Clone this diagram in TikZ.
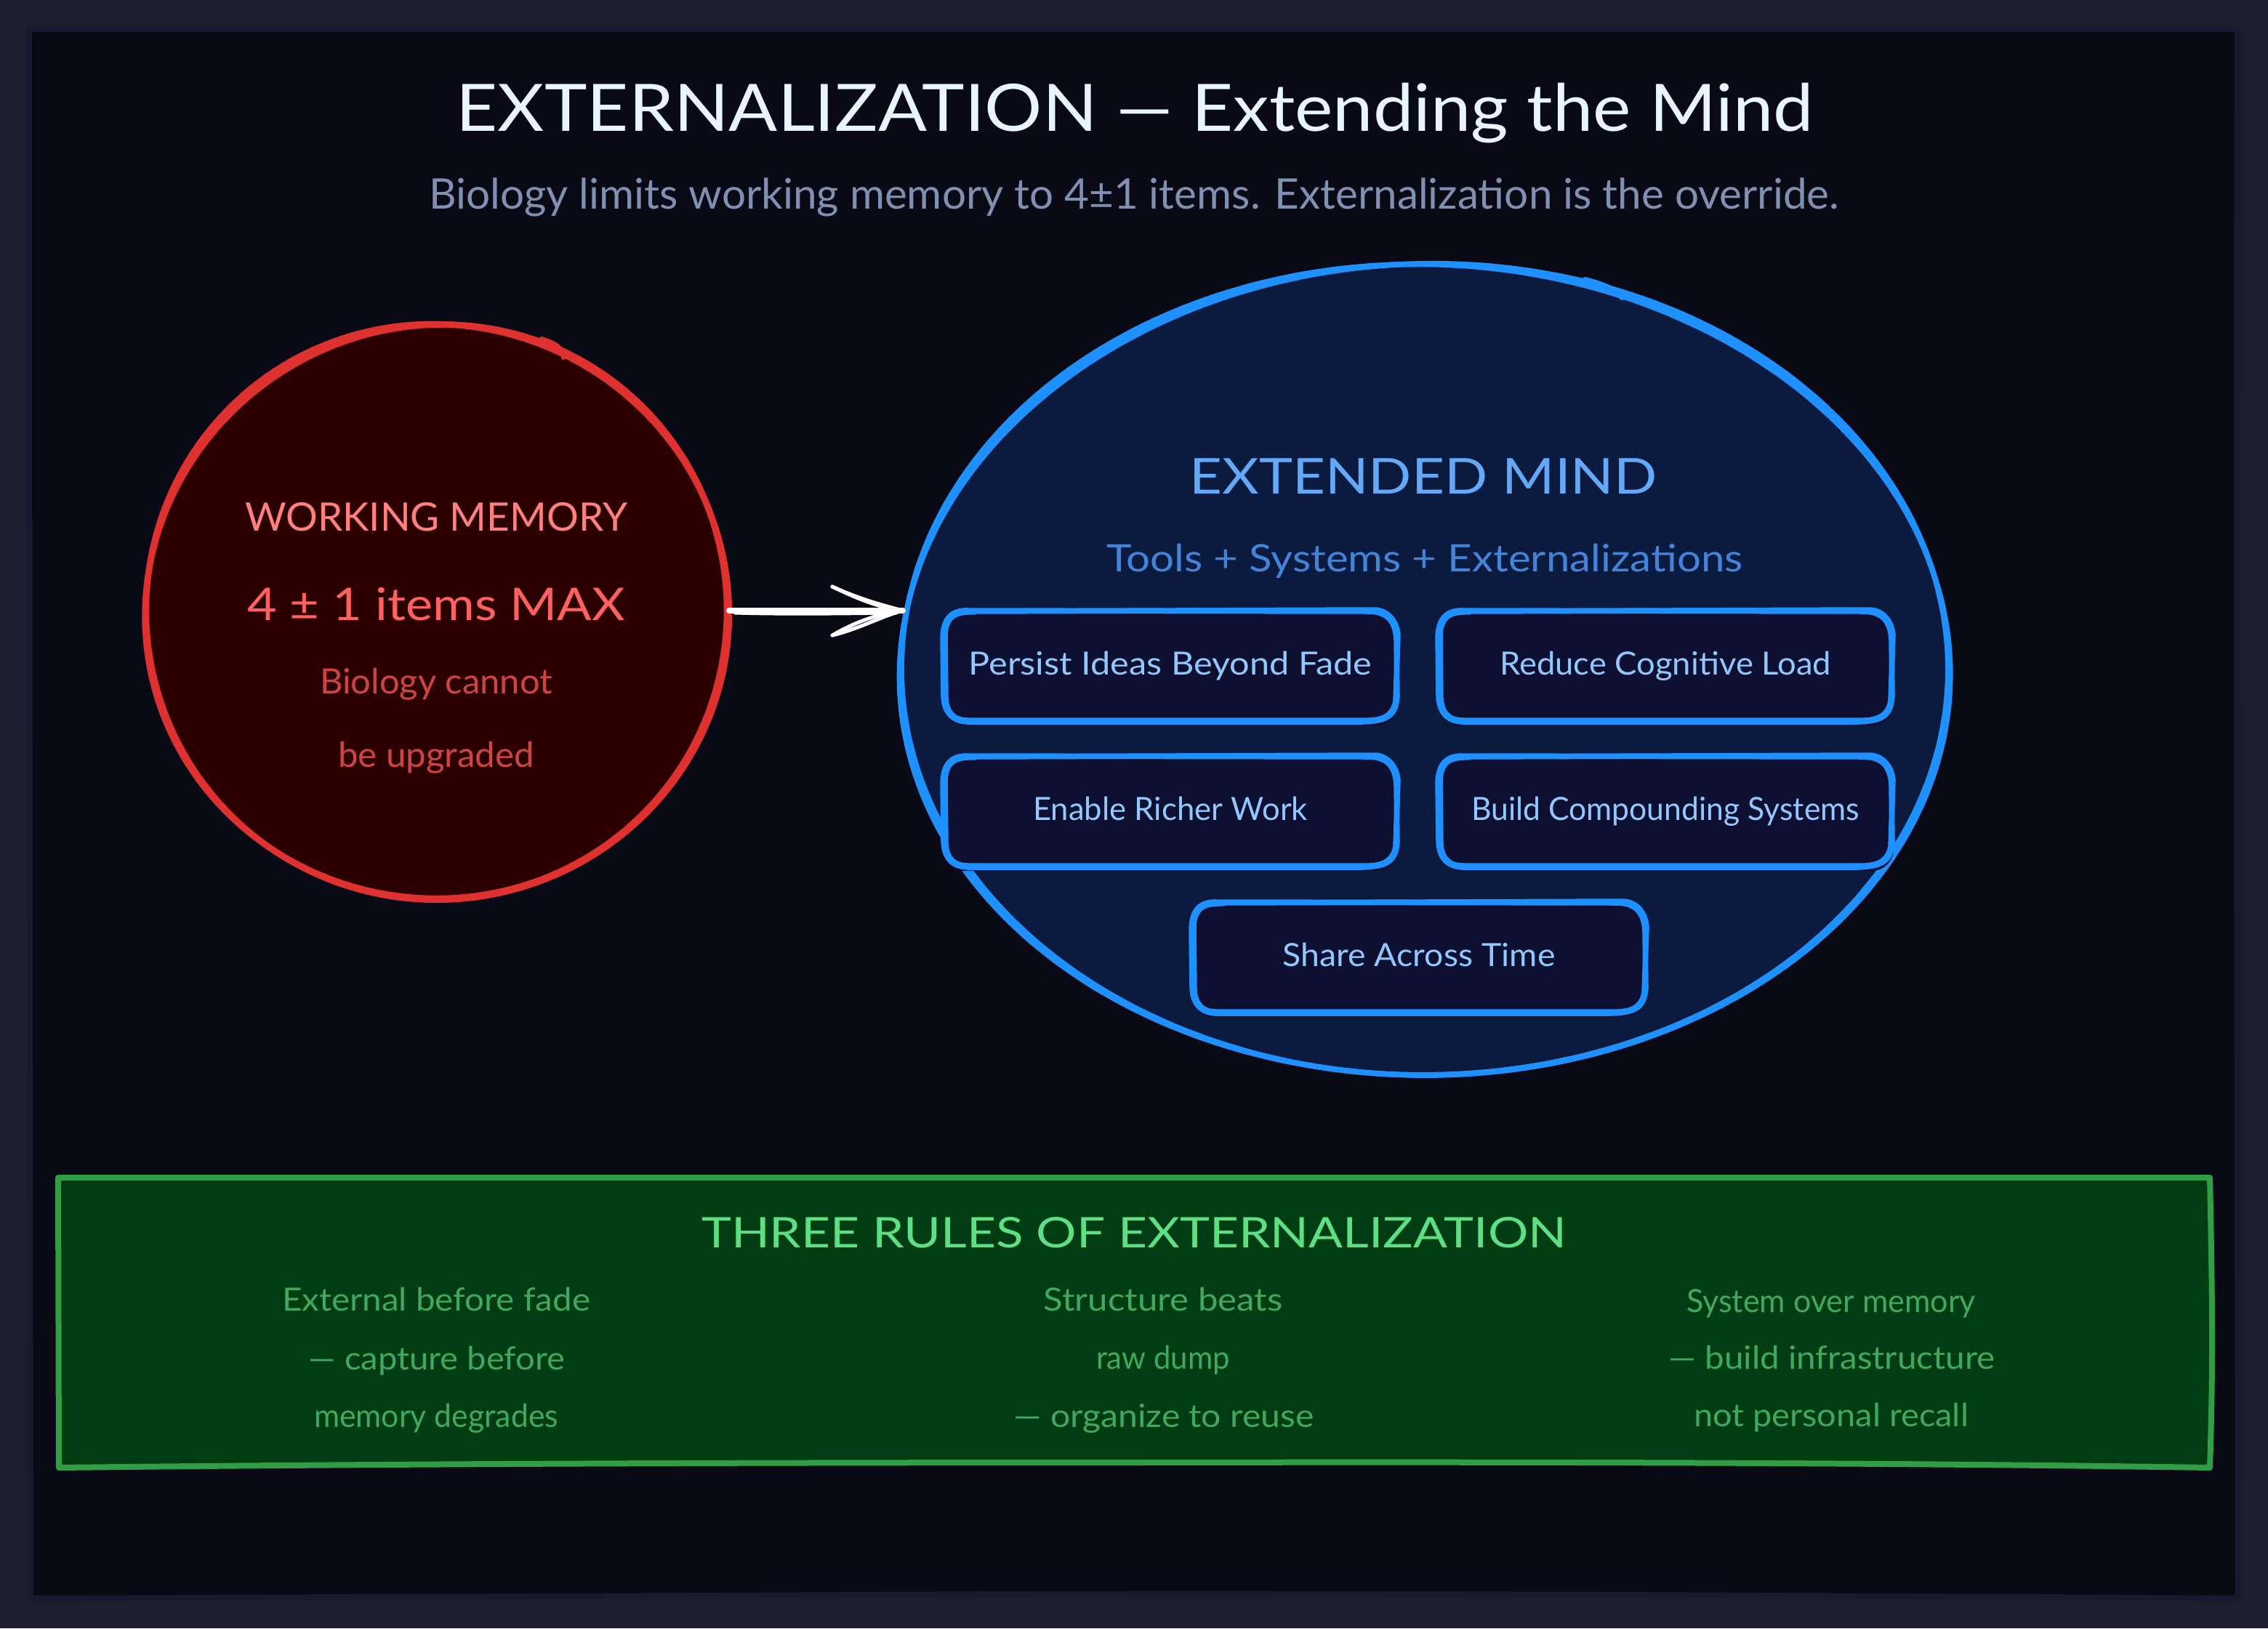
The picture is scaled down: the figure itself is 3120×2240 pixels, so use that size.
\documentclass[tikz,border=0pt]{standalone}
\usepackage{fontspec}
\usepackage{graphicx}
\setmainfont{Lato}
\usetikzlibrary{calc,shapes.geometric}
\definecolor{outerbg}{HTML}{1E1E2E}
\definecolor{band}{HTML}{1A1A2E}
\definecolor{innerbg}{HTML}{0A0A16}
\definecolor{titlec}{HTML}{E8F4FF}
\definecolor{subc}{HTML}{8090B0}
\definecolor{redline}{HTML}{E03131}
\definecolor{redfill}{HTML}{2D0000}
\definecolor{reda}{HTML}{FF8080}
\definecolor{redb}{HTML}{FF6060}
\definecolor{redc}{HTML}{CC4444}
\definecolor{blueline}{HTML}{1E90FF}
\definecolor{bluefill}{HTML}{0B1B40}
\definecolor{boxfill}{HTML}{0D1030}
\definecolor{bluea}{HTML}{64A8F8}
\definecolor{blueb}{HTML}{4484D8}
\definecolor{bluec}{HTML}{90C8FF}
\definecolor{greenline}{HTML}{2F9E44}
\definecolor{greenfill}{HTML}{013D12}
\definecolor{greena}{HTML}{5DE085}
\definecolor{greenb}{HTML}{40A860}
% fit{width}{font size}{text}: fixed size, horizontal scale to the measured width
\newcommand{\fit}[3]{\fontsize{#2}{#2}\selectfont\setbox0=\hbox{#3}%
  \pgfmathsetmacro{\fitscale}{#1/\the\wd0}\scalebox{\fitscale}[1]{\box0}}
\newcommand{\handring}[7]{% cx cy rx ry amp phase start
  plot[smooth,samples=80,domain=#7:#7+375,variable=\t]
  ({#1+#3*(1+#5*sin(2*\t+#6)+0.6*#5*sin(3*\t+2*#6))*cos(\t)},
   {#2+#4*(1+#5*sin(2*\t+#6)+0.6*#5*sin(3*\t+2*#6))*sin(\t)})}
\newcommand{\handbox}[6]{% name cx cy w h text
  \node[itembox,minimum width=#4pt,minimum height=#5pt] (#1) at (#2,#3) {#6};
  \draw[itemline]
    ($(#1.north west)+(36,4)$) .. controls ($(#1.north west)+(12,3)$) and ($(#1.north west)+(2,16)$) .. ($(#1.north west)+(1,40)$)
    -- ($(#1.south west)+(2,-40)$) .. controls ($(#1.south west)+(3,-16)$) and ($(#1.south west)+(16,-4)$) .. ($(#1.south west)+(40,-5)$)
    -- ($(#1.south east)+(-50,-5)$) .. controls ($(#1.south east)+(-14,-6)$) and ($(#1.south east)+(-4,-14)$) .. ($(#1.south east)+(-2,-40)$)
    -- ($(#1.north east)+(-3,45)$) .. controls ($(#1.north east)+(-4,16)$) and ($(#1.north east)+(-18,6)$) .. ($(#1.north east)+(-40,5)$)
    -- ($(#1.north west)+(36,4)$);
  \draw[itemline]
    ($(#1.north west)+(44,6)$) .. controls ($(#1.north west)+(18,5)$) and ($(#1.north west)+(6,12)$) .. ($(#1.north west)+(4,36)$)
    -- ($(#1.south west)+(5,-36)$) .. controls ($(#1.south west)+(7,-17)$) and ($(#1.south west)+(16,-7)$) .. ($(#1.south west)+(36,-7)$)
    -- ($(#1.south east)+(-40,-7)$) .. controls ($(#1.south east)+(-18,-8)$) and ($(#1.south east)+(-7,-16)$) .. ($(#1.south east)+(-4,-34)$)
    -- ($(#1.north east)+(-1,38)$) .. controls ($(#1.north east)+(-2,20)$) and ($(#1.north east)+(-14,3)$) .. ($(#1.north east)+(-34,3)$)
    -- ($(#1.north west)+(44,5)$);
}
\tikzset{
  x=1pt,y=-1pt,
  txt/.style={inner sep=0pt,outer sep=0pt,anchor=base},
  itembox/.style={fill=boxfill,rounded corners=30pt,inner sep=0pt,outer sep=0pt,text=bluec,
    text height=22pt,text depth=0pt,align=center},
  itemline/.style={draw=blueline,line width=7.5pt,line cap=round,line join=round},
  ringred/.style={draw=redline,line width=8.5pt,line cap=round,line join=round},
  ringblue/.style={draw=blueline,line width=7.5pt,line cap=round,line join=round},
  greenedge/.style={draw=greenline,line width=8pt,line cap=round,line join=round},
  arrowline/.style={draw=white,line width=8pt,line cap=round,line join=round},
  anchorshape/.style={ellipse,inner sep=0pt,outer sep=0pt,draw=none},
}
\begin{document}
\begin{tikzpicture}
\useasboundingbox (0,0) rectangle (3120,2240);
% frame
\fill[outerbg] (0,0) rectangle (3120,2240);
\draw[draw=band,line width=8pt,fill=innerbg,line join=round]
  (40,40) -- (3078,40) .. controls (3076,800) and (3078,1600) .. (3079,2199)
  .. controls (2600,2196) and (1800,2190) .. (1200,2194) .. controls (800,2196) and (300,2198) .. (42,2199)
  .. controls (41,1500) and (40,800) .. (40,40) -- cycle;
% title
\node[txt,text=titlec] (title) at (1561,180) {\fit{1867}{90}{EXTERNALIZATION — Extending the Mind}};
\node[txt,text=subc] (subtitle) at (1560,287) {\fit{1940}{58}{Biology limits working memory to 4±1 items. Externalization is the override.}};
% working memory
\node[anchorshape,minimum width=804pt,minimum height=796pt] (wm) at (601,840) {};
\fill[redfill] \handring{601}{842}{398}{396}{0}{0}{0} -- cycle;
\draw[ringred] \handring{601}{842}{400}{397}{0.004}{40}{-50};
\draw[ringred] \handring{601}{842}{399}{396}{0.006}{150}{-60};
\draw[ringred,line width=6pt] (745,466) .. controls (765,472) and (776,480) .. (775,492);
\node[txt,text=reda] (wmt) at (600,730) {\fit{526}{54}{WORKING MEMORY}};
\node[txt,text=redb] (wmn) at (600,853) {\fit{520}{62}{4 ± 1 items MAX}};
\node[txt,text=redc] (wmb) at (600,954) {\fit{320}{48}{Biology cannot}};
\node[txt,text=redc] (wmc) at (600,1055) {\fit{270}{48}{be upgraded}};
% extended mind
\node[anchorshape,minimum width=1444pt,minimum height=1124pt] (em) at (1960,922) {};
\fill[bluefill] \handring{1960}{922}{720}{560}{0}{0}{0} -- cycle;
\draw[ringblue] \handring{1960}{922}{720}{559}{0.004}{30}{-62};
\draw[ringblue] \handring{1960}{922}{720}{559}{0.005}{160}{-70};
\draw[ringblue,line width=6pt] (2180,384) .. controls (2205,390) and (2225,398) .. (2231,410);
\draw[ringblue,line width=5pt] (2218,404) .. controls (2224,398) and (2238,402) .. (2244,406);
\node[txt,text=bluea] (emt) at (1958,679) {\fit{643}{68}{EXTENDED MIND}};
\node[txt,text=blueb] (ems) at (1960,786) {\fit{875}{52}{Tools + Systems + Externalizations}};
\handbox{b1}{1610}{917}{628}{162}{\fit{555}{44}{Persist Ideas Beyond Fade}}
\handbox{b2}{2291}{917}{628}{162}{\fit{456}{44}{Reduce Cognitive Load}}
\handbox{b3}{1610}{1117}{628}{162}{\fit{378}{44}{Enable Richer Work}}
\handbox{b4}{2291}{1117}{628}{162}{\fit{534}{44}{Build Compounding Systems}}
\handbox{b5}{1952}{1318}{628}{162}{\fit{375}{44}{Share Across Time}}
% arrow
\coordinate (tip) at ($(em.west |- wm.east)+(4,0)$);
\draw[arrowline] (wm.east) -- (tip);
\draw[arrowline,line width=5pt] ($(wm.east)+(8,3)$) .. controls ($(wm.east)+(80,5)$) and ($(tip)+(-90,4)$) .. ($(tip)+(-10,3)$);
\draw[arrowline,line width=5pt] ($(tip)+(-97,-33)$) .. controls ($(tip)+(-60,-16)$) and ($(tip)+(-30,-8)$) .. (tip);
\draw[arrowline,line width=5pt] ($(tip)+(-97,-33)$) .. controls ($(tip)+(-70,-20)$) and ($(tip)+(-35,-4)$) .. (tip);
\draw[arrowline,line width=5pt] ($(tip)+(-97,34)$) .. controls ($(tip)+(-60,25)$) and ($(tip)+(-30,8)$) .. (tip);
\draw[arrowline,line width=5pt] ($(tip)+(-97,34)$) .. controls ($(tip)+(-70,18)$) and ($(tip)+(-35,4)$) .. (tip);
% rules panel
\draw[greenedge,fill=greenfill]
  (80,1620) -- (3040,1620) .. controls (3044,1800) and (3044,1900) .. (3040,2019)
  .. controls (2600,2012) and (2100,2011) .. (1560,2012) .. controls (1000,2012) and (500,2014) .. (81,2019)
  -- cycle;
\node[txt,text=greena] (rt) at (1560,1716) {\fit{1190}{58}{THREE RULES OF EXTERNALIZATION}};
\node[txt,text=greenb] (r11) at (600,1803) {\fit{424}{44}{External before fade}};
\node[txt,text=greenb] (r12) at (601,1884) {\fit{353}{44}{— capture before}};
\node[txt,text=greenb] (r13) at (600,1963) {\fit{336}{44}{memory degrades}};
\node[txt,text=greenb] (r21) at (1600,1803) {\fit{329}{44}{Structure beats}};
\node[txt,text=greenb] (r22) at (1600,1883) {\fit{184}{44}{raw dump}};
\node[txt,text=greenb] (r23) at (1601,1963) {\fit{413}{44}{— organize to reuse}};
\node[txt,text=greenb] (r31) at (2519,1805) {\fit{398}{44}{System over memory}};
\node[txt,text=greenb] (r32) at (2520,1883) {\fit{449}{44}{— build infrastructure}};
\node[txt,text=greenb] (r33) at (2519,1962) {\fit{378}{44}{not personal recall}};
\end{tikzpicture}
\end{document}
